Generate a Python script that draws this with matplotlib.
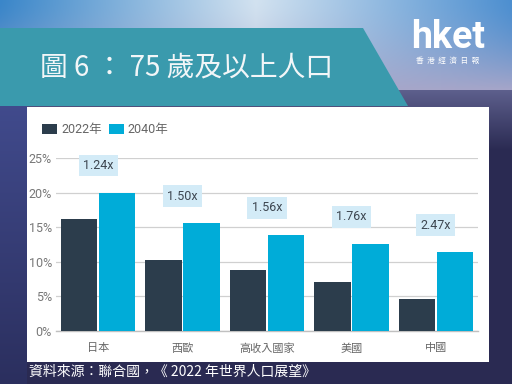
import matplotlib
matplotlib.use("Agg")
import matplotlib.pyplot as plt
import numpy as np
from matplotlib.patches import Polygon, Rectangle

categories = ["日本", "西歐", "高收入國家", "美國", "中國"]
v2022 = [16.2, 10.3, 8.8, 7.1, 4.6]
v2040 = [20.0, 15.6, 13.9, 12.6, 11.4]
ratios = ["1.24x", "1.50x", "1.56x", "1.76x", "2.47x"]
series_names = ["2022年", "2040年"]
yticks = [0, 5, 10, 15, 20, 25]

CJK = ["Noto Sans CJK TC", "DejaVu Sans"]
NUM = ["Liberation Sans Narrow", "Roboto", "Noto Sans CJK TC", "DejaVu Sans"]
plt.rcParams['font.family'] = CJK

W, H = 512, 384
fig = plt.figure(figsize=(W / 100, H / 100), dpi=100)

# background
bg = fig.add_axes([0, 0, 1, 1])
bg.set_xlim(0, W)
bg.set_ylim(H, 0)
bg.axis("off")

img = np.zeros((H, W, 3))
xs = np.linspace(0, 1, W)
def hexc(h):
    h = h.lstrip("#")
    return np.array([int(h[i:i + 2], 16) / 255 for i in (0, 2, 4)])
left_c, mid_c, right_c = hexc("#3a86c9"), hexc("#d2e2f0"), hexc("#4d8fd0")
lav = hexc("#a7a6c9")
for y in range(H):
    if y < 90:
        t = xs
        row = np.where(t[:, None] < 0.5,
                       left_c + (mid_c - left_c) * (t[:, None] / 0.5),
                       mid_c + (right_c - mid_c) * ((t[:, None] - 0.5) / 0.5))
        f = (y / 90) ** 1.5
        row = row * (1 - f) + lav * f
        img[y] = row
    else:
        f = min(1, (y - 90) / 60)
        base = hexc("#5d5f8c") * (1 - f) + hexc("#2a2a52") * f
        img[y] = base
        lf = (y - 90) / (H - 90)
        img[y, :27] = hexc("#424c8f") * (1 - lf) + hexc("#2b2f5e") * lf
bg.imshow(img, extent=[0, W, H, 0], aspect="auto", zorder=0)

bg.add_patch(Polygon([(0, 28), (363, 28), (408, 106), (0, 106)], closed=True,
                     facecolor="#3a9aad", edgecolor="none", zorder=1))
bg.add_patch(Rectangle((27, 107), 462, 255, facecolor="white", edgecolor="none", zorder=2))

bg.text(40, 68, "圖 6 ： 75 歲及以上人口", color="#f2f6f8", fontsize=20,
        fontweight="light", va="center", ha="left", zorder=3)
bg.text(448, 38, "hket", color="white", fontsize=27, fontweight="bold",
        family=["Roboto", "DejaVu Sans"], va="center", ha="center", zorder=3)
bg.text(448, 61, "香  港  經  濟  日  報", color="white", fontsize=5.5,
        va="center", ha="center", zorder=3)
bg.text(29, 372, "資料來源：聯合國，《 2022 年世界人口展望》", color="white",
        fontsize=10, va="center", ha="left", zorder=3)

# chart
ax = fig.add_axes([56 / W, 1 - 331 / H, 422 / W, 173 / H])
ax.set_facecolor("none")
x = np.arange(len(categories))
bw = 0.43
c1, c2 = "#2c3d4c", "#00acd8"
b1 = ax.bar(x - bw / 2 - 0.01, v2022, bw, color=c1, zorder=3, label=series_names[0])
b2 = ax.bar(x + bw / 2 + 0.01, v2040, bw, color=c2, zorder=3, label=series_names[1])
for i, r in enumerate(ratios):
    ax.text(x[i], v2040[i] + 3.9, r, ha="center", va="center", fontsize=9,
            color="#3d4650", family=NUM, zorder=4,
            bbox=dict(boxstyle="square,pad=0.35", facecolor="#d3ebf7", edgecolor="none"))

ax.set_xlim(-0.5, len(categories) - 0.5)
ax.set_ylim(0, 25)
ax.set_yticks(yticks)
ax.set_yticklabels([f"{t}%" for t in yticks], family=NUM, fontsize=9, color="#777777")
ax.set_xticks(x)
ax.set_xticklabels(categories, fontsize=8, color="#666666")
ax.tick_params(axis="both", length=0, pad=3)
ax.tick_params(axis="x", pad=9)
ax.yaxis.grid(True, color="#d0d0d0", linewidth=0.9, zorder=0)
for s in ["top", "right", "left"]:
    ax.spines[s].set_visible(False)
ax.spines["bottom"].set_color("#c0c0c0")
ax.spines["bottom"].set_linewidth(1)
ax.set_axisbelow(True)

leg = fig.legend(handles=[b1, b2], labels=series_names, loc="center left",
                 bbox_to_anchor=(31 / W, 1 - 130 / H), ncol=2, frameon=False,
                 handlelength=1.2, handleheight=0.8, handletextpad=0.3,
                 columnspacing=0.6, prop={"family": NUM + CJK, "size": 9})
for t in leg.get_texts():
    t.set_color("#666666")

fig.savefig("out.png", dpi=100)
